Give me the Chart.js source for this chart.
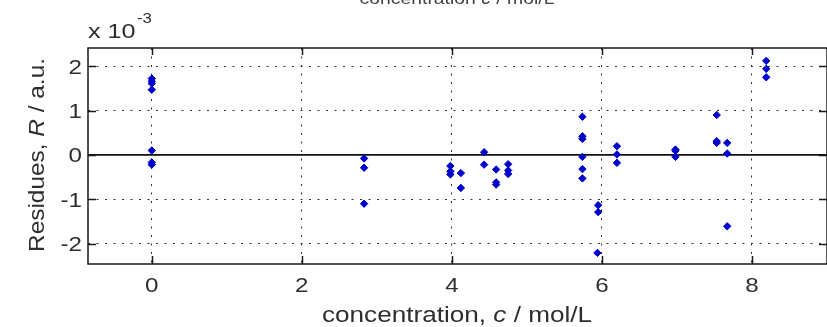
<!DOCTYPE html>
<html>
<head>
<meta charset="utf-8">
<script src="https://cdn.jsdelivr.net/npm/chart.js@4/dist/chart.umd.min.js"></script>
<style>
  html, body { margin: 0; padding: 0; background: #fff; overflow: hidden; }
  #wrap { width: 827px; height: 327px; overflow: hidden; position: relative; }
  canvas { display: block; }
</style>
</head>
<body>
<div id="wrap"><canvas id="c" width="832" height="327"></canvas></div>
<script>
// ---- data (residues in units of 1e-3 a.u.) ----
const concentration = [
  0, 0, 0, 0, 0, 0, 0,
  2.83, 2.83, 2.83,
  3.98, 3.98, 3.98,
  4.12, 4.12,
  4.43, 4.43,
  4.59, 4.59, 4.59,
  4.75, 4.75, 4.75,
  5.74, 5.74, 5.74, 5.74, 5.74, 5.74,
  5.95, 5.95, 5.94,
  6.20, 6.20, 6.20,
  6.98, 6.98, 6.98,
  7.53, 7.53, 7.53,
  7.67, 7.67, 7.67,
  8.19, 8.19, 8.19
];
const residues = [
  1.72, 1.66, 1.61, 1.47, 0.10, -0.17, -0.22,
  -0.08, -0.29, -1.10,
  -0.25, -0.37, -0.44,
  -0.41, -0.745,
  0.06, -0.22,
  -0.33, -0.62, -0.67,
  -0.21, -0.35, -0.43,
  0.86, 0.42, 0.36, -0.045, -0.32, -0.53,
  -1.135, -1.29, -2.21,
  0.196, 0.01, -0.18,
  0.12, 0.09, -0.045,
  0.90, 0.31, 0.27,
  0.27, 0.03, -1.61,
  2.12, 1.94, 1.75
];
const zeroLineX = [-0.85, 9];
const zeroLineY = [0, 0];
const xTickValues = [0, 2, 4, 6, 8];
const xTickLabels = ['0', '2', '4', '6', '8'];
const yTickValues = [-2, -1, 0, 1, 2];
const yTickLabels = ['-2', '-1', '0', '1', '2'];
const xRange = [-0.85, 9];
const yRange = [-2.46, 2.41];
const exponentBase = 'x 10';
const exponentPower = '-3';
const xTitle = [['concentration, ', false], ['c', true], [' / mol/L', false]];
const yTitle = [['Residues, ', false], ['R', true], [' / a.u.', false]];
const cutTitle = [['concentration ', false], ['c', true], [' / mol/L', false]];

// ---- helpers ----
const FONT = '"Liberation Sans", Arial, Helvetica, sans-serif';
function fontStr(size, italic) { return (italic ? 'italic ' : '') + size + 'px ' + FONT; }
function drawSegments(ctx, segs, size, cx, cy, targetW, rotate, color) {
  ctx.save();
  let total = 0;
  const widths = segs.map(s => { ctx.font = fontStr(size, s[1]); const w = ctx.measureText(s[0]).width; total += w; return w; });
  const sx = targetW / total;
  ctx.translate(cx, cy);
  if (rotate) ctx.rotate(-Math.PI / 2);
  ctx.scale(sx, 1);
  ctx.fillStyle = color;
  ctx.textBaseline = 'alphabetic';
  ctx.textAlign = 'left';
  let x = -total / 2;
  segs.forEach((s, i) => { ctx.font = fontStr(size, s[1]); ctx.fillText(s[0], x, 0); x += widths[i]; });
  ctx.restore();
}
function drawStretched(ctx, str, x, y, size, align, sx, color) {
  ctx.save();
  ctx.font = fontStr(size, false);
  ctx.translate(x, y);
  ctx.scale(sx, 1);
  ctx.textAlign = align;
  ctx.textBaseline = 'alphabetic';
  ctx.fillStyle = color;
  ctx.fillText(str, 0, 0);
  ctx.restore();
}

const decorPlugin = {
  id: 'matlabDecor',
  afterDatasetsDraw(chart) {
    const ctx = chart.ctx;
    const a = chart.chartArea;
    const xs = chart.scales.x, ys = chart.scales.y;
    ctx.save();
    // box
    ctx.strokeStyle = '#1a1a1a';
    ctx.lineWidth = 1.5;
    ctx.strokeRect(a.left, a.top, a.right - a.left, a.bottom - a.top);
    // inward ticks
    ctx.lineWidth = 1.5;
    ctx.beginPath();
    xTickValues.forEach(v => {
      const px = Math.round(xs.getPixelForValue(v)) + 0.5;
      ctx.moveTo(px, a.top); ctx.lineTo(px, a.top + 7);
      ctx.moveTo(px, a.bottom); ctx.lineTo(px, a.bottom - 8);
    });
    yTickValues.forEach(v => {
      const py = Math.round(ys.getPixelForValue(v)) + 0.5;
      ctx.moveTo(a.left, py); ctx.lineTo(a.left + 8, py);
      ctx.moveTo(a.right, py); ctx.lineTo(a.right - 8, py);
    });
    ctx.stroke();
    ctx.restore();

    const txt = '#2e2e2e';
    // tick labels
    xTickValues.forEach((v, i) => {
      drawStretched(ctx, xTickLabels[i], xs.getPixelForValue(v), 292, 21, 'center', 1.15, txt);
    });
    yTickValues.forEach((v, i) => {
      drawStretched(ctx, yTickLabels[i], 82, ys.getPixelForValue(v) + 7.5, 21, 'right', 1.15, txt);
    });
    // exponent
    drawStretched(ctx, exponentBase, 88, 38, 21, 'left', 1.2, txt);
    drawStretched(ctx, exponentPower, 137, 23, 14, 'left', 1.2, txt);
    // axis titles
    drawSegments(ctx, xTitle, 22, 457, 322, 270, false, txt);
    drawSegments(ctx, yTitle, 22, 44, 155, 194, true, txt);
    // cut-off title of the panel above
    drawSegments(ctx, cutTitle, 16, 457, 3.5, 195, false, '#444');
  }
};

const points = concentration.map((c, i) => ({ x: c, y: residues[i] }));
const zeroLine = zeroLineX.map((x, i) => ({ x: x, y: zeroLineY[i] }));

new Chart(document.getElementById('c'), {
  type: 'scatter',
  data: {
    datasets: [
      {
        type: 'line',
        data: zeroLine,
        borderColor: '#111',
        borderWidth: 1.7,
        pointRadius: 0,
        fill: false,
        order: 2
      },
      {
        data: points,
        pointStyle: 'rectRot',
        pointRadius: 3.7,
        pointBackgroundColor: '#0000cc',
        pointBorderColor: '#0000cc',
        pointBorderWidth: 1,
        order: 1
      }
    ]
  },
  options: {
    responsive: false,
    animation: false,
    devicePixelRatio: 1,
    layout: { padding: { top: 48, right: 2, left: 0, bottom: 0 } },
    plugins: { legend: { display: false }, tooltip: { enabled: false }, title: { display: false } },
    scales: {
      x: {
        type: 'linear',
        position: 'bottom',
        min: xRange[0], max: xRange[1],
        afterBuildTicks: s => { s.ticks = xTickValues.map(v => ({ value: v })); },
        afterFit: s => { s.height = 63; },
        ticks: { display: false },
        grid: { display: true, drawTicks: false, color: '#333', lineWidth: 1 },
        border: { display: false, dash: [2, 6.5] }
      },
      y: {
        type: 'linear',
        position: 'left',
        min: yRange[0], max: yRange[1],
        afterBuildTicks: s => { s.ticks = yTickValues.map(v => ({ value: v })); },
        afterFit: s => { s.width = 88; },
        ticks: { display: false },
        grid: { display: true, drawTicks: false, color: '#333', lineWidth: 1 },
        border: { display: false, dash: [2, 6.5] }
      }
    }
  },
  plugins: [decorPlugin]
});
</script>
</body>
</html>
